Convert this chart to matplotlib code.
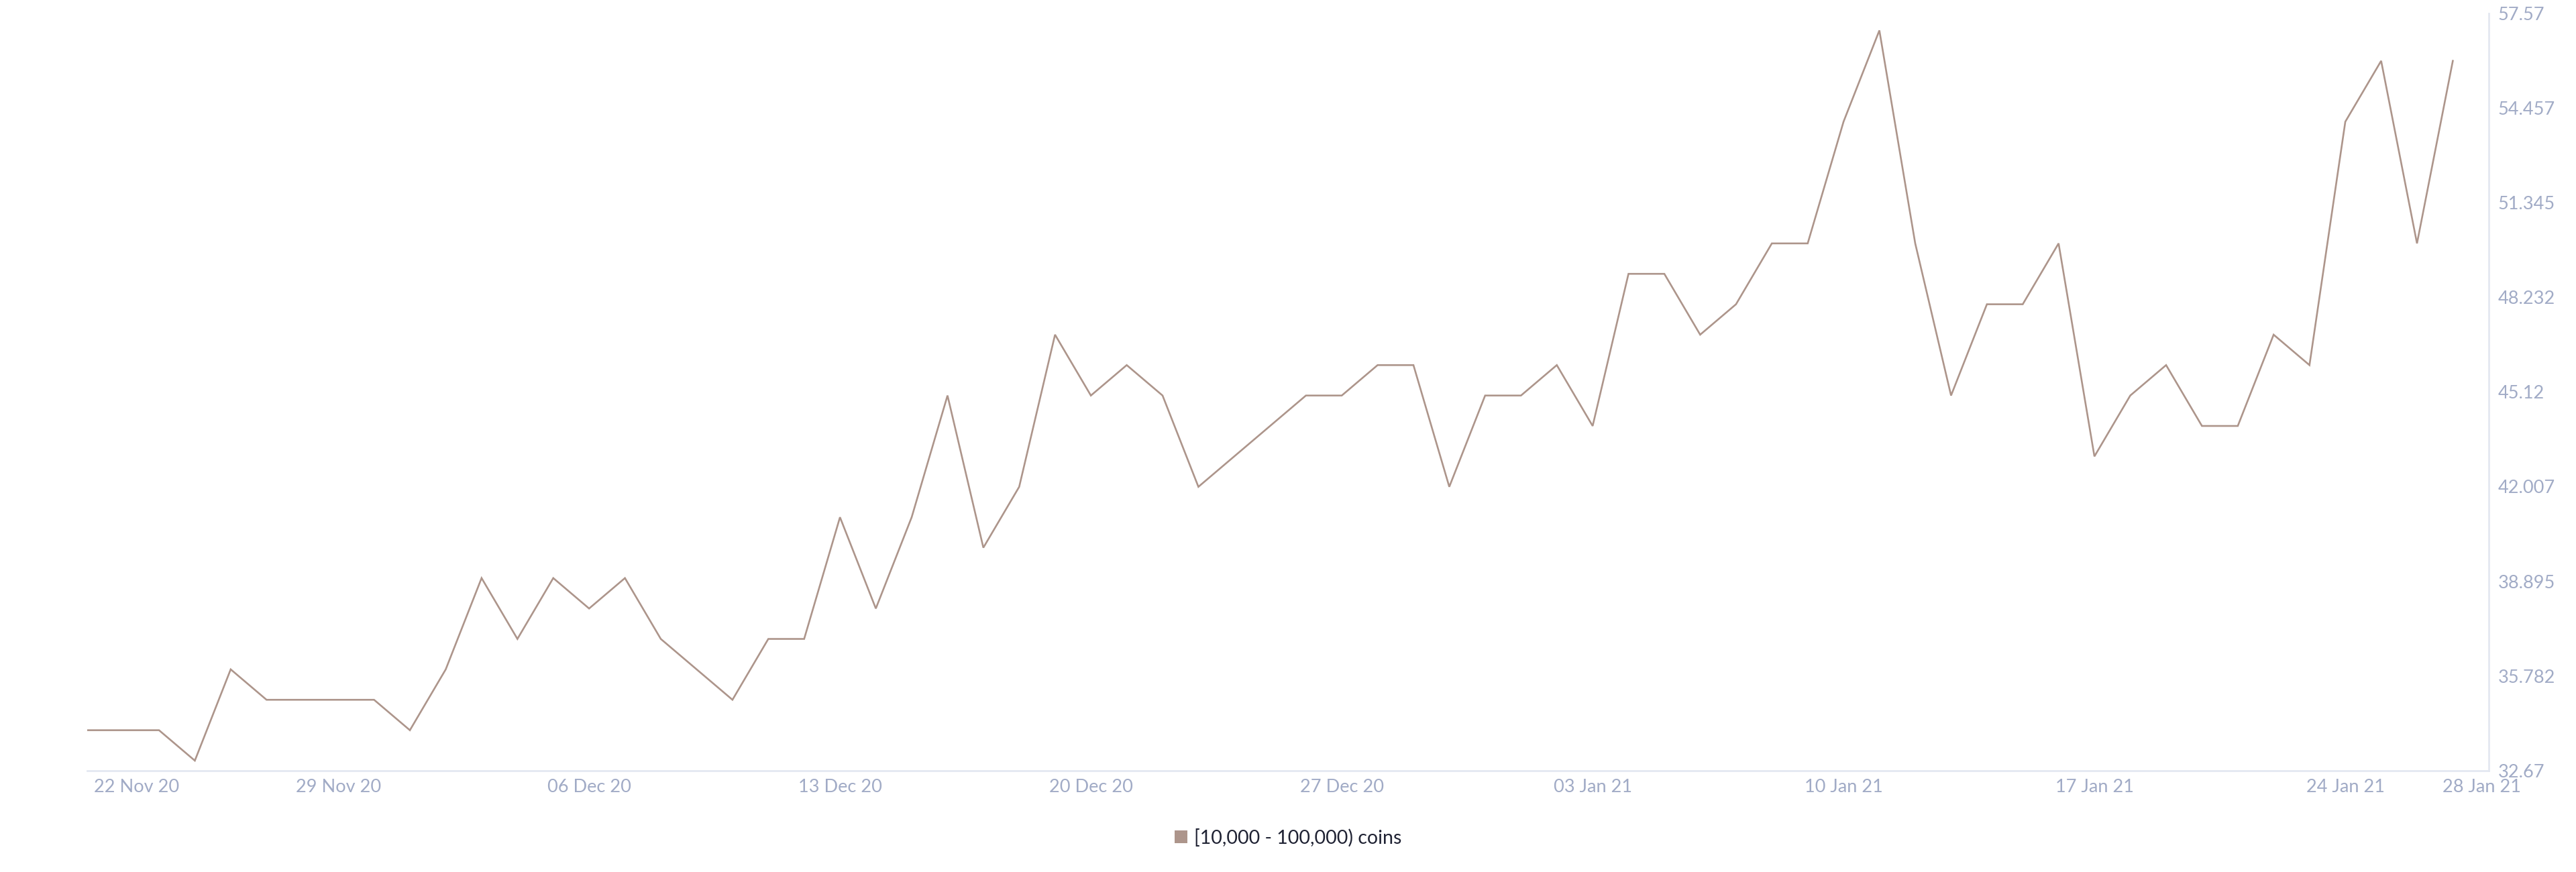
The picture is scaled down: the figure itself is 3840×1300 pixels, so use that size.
import numpy as np
import pandas as pd
import matplotlib
matplotlib.use("Agg")
import matplotlib.pyplot as plt
import matplotlib.dates as mdates
import matplotlib.transforms as mtrans
from matplotlib.patches import Patch

plt.rcParams['font.family'] = ['Lato', 'DejaVu Sans']

# daily holder counts, 22 Nov 2020 .. 27 Jan 2021
start_date = "2020-11-22"
holders = [34, 34, 34, 33, 36, 35, 35, 35, 35, 34,
           36, 39, 37, 39, 38, 39, 37, 36, 35, 37,
           37, 41, 38, 41, 45, 40, 42, 47, 45, 46,
           45, 42, 43, 44, 45, 45, 46, 46, 42, 45,
           45, 46, 44, 49, 49, 47, 48, 50, 50, 54,
           57, 50, 45, 48, 48, 50, 43, 45, 46, 44,
           44, 47, 46, 54, 56, 50, 56]

tick_dates = ["2020-11-22", "2020-11-29", "2020-12-06", "2020-12-13",
              "2020-12-20", "2020-12-27", "2021-01-03", "2021-01-10",
              "2021-01-17", "2021-01-24", "2021-01-28"]
tick_labels = ["22 Nov 20", "29 Nov 20", "06 Dec 20", "13 Dec 20",
               "20 Dec 20", "27 Dec 20", "03 Jan 21", "10 Jan 21",
               "17 Jan 21", "24 Jan 21", "28 Jan 21"]
y_ticks = [32.67, 35.782, 38.895, 42.007, 45.12, 48.232, 51.345, 54.457, 57.57]
y_labels = ["32.67", "35.782", "38.895", "42.007", "45.12", "48.232",
            "51.345", "54.457", "57.57"]
series_name = "[10,000 - 100,000) coins"

LINE = "#ad958b"
AXIS = "#e4e8f1"
TICK = "#a1abc6"

dates = pd.date_range(start_date, periods=len(holders), freq="D")

fig = plt.figure(figsize=(38.4, 13), dpi=100)
ax = fig.add_axes([0.0339, 0.1162, 0.9322, 0.8688])

ax.plot(dates, holders, color=LINE, lw=1.9, solid_joinstyle="miter")

ax.set_xlim(pd.Timestamp(tick_dates[0]), pd.Timestamp(tick_dates[-1]))
ax.set_ylim(y_ticks[0], y_ticks[-1])

ax.set_xticks([mdates.date2num(pd.Timestamp(d)) for d in tick_dates])
ax.set_xticklabels(tick_labels)
ax.set_yticks(y_ticks)
ax.set_yticklabels(y_labels)

ax.yaxis.tick_right()
ax.tick_params(axis="both", length=0, labelsize=19.5, labelcolor=TICK)
ax.tick_params(axis="x", pad=9)
ax.tick_params(axis="y", pad=10)
for lab in ax.get_yticklabels():
    lab.set_horizontalalignment("left")

for s in ["left", "top"]:
    ax.spines[s].set_visible(False)
for s in ["bottom", "right"]:
    ax.spines[s].set_color(AXIS)
    ax.spines[s].set_linewidth(2)

# first label starts at the plot edge, last one pulled in a bit
xl = ax.get_xticklabels()
xl[0].set_horizontalalignment("left")
xl[0].set_transform(xl[0].get_transform() +
                    mtrans.ScaledTranslation(0.10, 0, fig.dpi_scale_trans))
xl[-1].set_transform(xl[-1].get_transform() +
                     mtrans.ScaledTranslation(-0.10, 0, fig.dpi_scale_trans))

fig.legend(handles=[Patch(facecolor=LINE, edgecolor="none", label=series_name)],
           loc="center", bbox_to_anchor=(0.5, 0.039), frameon=False,
           fontsize=20.5, handlelength=0.65, handleheight=0.65,
           handletextpad=0.35, labelcolor="#1f2233")

fig.savefig("out.png", dpi=100, facecolor="white")
